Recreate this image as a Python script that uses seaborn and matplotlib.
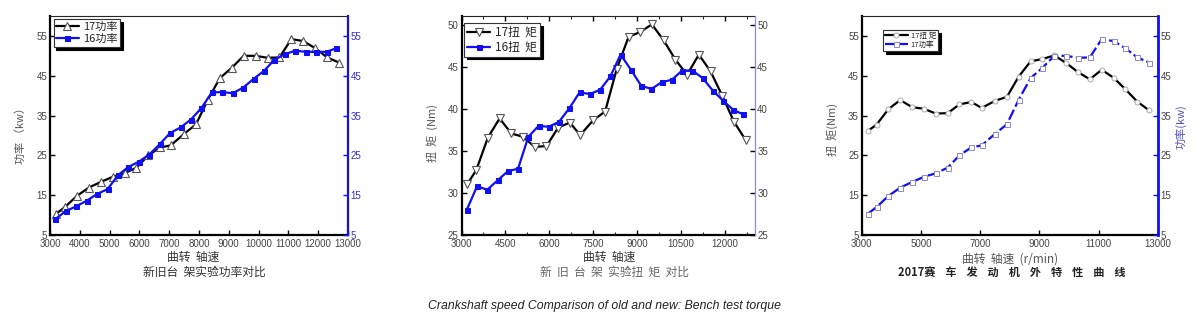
import matplotlib
matplotlib.use('Agg')
import matplotlib.pyplot as plt
import seaborn as sns
from matplotlib import font_manager as fm
from matplotlib.ticker import MultipleLocator, FixedLocator

# ---------------- data ----------------
rpm17 = [3200, 3500, 3900, 4300, 4700, 5100, 5500, 5900, 6300, 6700, 7050, 7500,
         7900, 8300, 8700, 9100, 9500, 9900, 10300, 10700, 11100, 11500, 11900,
         12300, 12700]
power17 = [10.3, 12.0, 14.8, 16.9, 18.3, 19.6, 20.5, 21.9, 25.0, 27.0, 27.5, 30.4,
           32.8, 39.0, 44.4, 47.0, 50.0, 50.0, 49.5, 49.6, 54.2, 53.7, 51.9, 49.6, 48.3]
torque17 = [31.1, 32.7, 36.6, 38.9, 37.1, 36.7, 35.5, 35.6, 37.8, 38.4, 36.9, 38.7,
            39.7, 44.8, 48.6, 49.2, 50.1, 48.2, 45.9, 44.1, 46.5, 44.5, 41.6, 38.5, 36.3]

rpm16 = [3180, 3530, 3880, 4230, 4580, 4930, 5280, 5630, 5980, 6330, 6680, 7030,
         7380, 7730, 8080, 8430, 8780, 9130, 9480, 9830, 10180, 10530, 10880, 11230,
         11580, 11930, 12280, 12600]
power16 = [9.0, 11.0, 12.2, 13.6, 15.3, 16.5, 20.0, 22.1, 23.4, 25.2, 27.8, 30.6,
           32.0, 34.0, 36.9, 40.8, 40.9, 40.6, 42.0, 44.2, 46.2, 49.0, 50.4, 51.3,
           51.0, 51.0, 51.0, 51.9]
torque16 = [28.0, 30.8, 30.4, 31.5, 32.6, 32.9, 36.7, 38.0, 37.9, 38.5, 40.1, 42.0,
            41.8, 42.3, 43.9, 46.5, 44.7, 42.8, 42.4, 43.2, 43.5, 44.6, 44.6, 43.7,
            42.2, 41.0, 39.9, 39.4]

ticks_p1 = [3000, 4000, 5000, 6000, 7000, 8000, 9000, 10000, 11000, 12000, 13000]
ticks_p2 = [3000, 4500, 6000, 7500, 9000, 10500, 12000]
ticks_p3 = [3000, 5000, 7000, 9000, 11000, 13000]
yt_power = [5, 15, 25, 35, 45, 55]
yt_torque = [25, 30, 35, 40, 45, 50]

# ---------------- style ----------------
sns.set_style('ticks')
names = {f.name for f in fm.fontManager.ttflist}
narrow = 'Liberation Sans Narrow' if 'Liberation Sans Narrow' in names else 'Liberation Sans'
plt.rcParams['font.family'] = [narrow, 'Noto Sans CJK SC', 'DejaVu Sans']
CJK = ['Noto Sans CJK SC', 'DejaVu Sans']
BLUE = '#1010f0'
GREY = '#444444'
TICK_FS = 7

W, H = 1201, 329
fig = plt.figure(figsize=(W / 100, H / 100), dpi=100)


def rect(l, r, t=16, b=235):
    return [l / W, 1 - b / H, (r - l) / W, (b - t) / H]


def style_axes(ax, ax2, xlim, xticks, ylim, yticks, right_color, right_lw, right_lab_color,
               left_lab_color=GREY):
    ax.set_xlim(*xlim)
    ax.set_ylim(*ylim)
    ax2.set_ylim(*ylim)
    ax.xaxis.set_major_locator(FixedLocator(xticks))
    ax.yaxis.set_major_locator(FixedLocator(yticks))
    ax2.yaxis.set_major_locator(FixedLocator(yticks))
    ax.tick_params(axis='both', direction='in', length=3.5, width=1, labelsize=TICK_FS,
                   colors='black', labelcolor=GREY, pad=2)
    ax.tick_params(axis='x', pad=3.2)
    ax.tick_params(axis='y', labelcolor=left_lab_color)
    ax2.tick_params(axis='y', direction='in', length=3.5, width=1, labelsize=TICK_FS,
                    colors=right_color, labelcolor=right_lab_color, pad=2)
    for s in ['left', 'bottom']:
        ax.spines[s].set_linewidth(1.6)
        ax.spines[s].set_color('black')
    ax.spines['top'].set_linewidth(0.8)
    ax.spines['right'].set_visible(False)
    for s in ['left', 'top', 'bottom']:
        ax2.spines[s].set_visible(False)
    ax2.spines['right'].set_color(right_color)
    ax2.spines['right'].set_linewidth(right_lw)
    ax.set_xlabel('')
    ax.set_ylabel('')
    ax2.set_ylabel('')


def legend(ax2, handles, labels, anchor, size, hl=2.0):
    leg = ax2.legend(handles, labels, loc='upper left', bbox_to_anchor=anchor,
                     borderaxespad=0, frameon=True, fancybox=False,
                     shadow={'color': 'black', 'alpha': 1}, framealpha=1,
                     edgecolor='#333333', borderpad=0.25, handlelength=hl,
                     handletextpad=0.4, labelspacing=0.15,
                     prop={'family': CJK, 'size': size})
    leg.get_frame().set_linewidth(0.8)
    return leg


# ---------------- panel 1 : power ----------------
ax = fig.add_axes(rect(50, 348))
ax2 = ax.twinx()
sns.lineplot(x=rpm17, y=power17, ax=ax, color='black', lw=1.6, marker='^',
             markersize=6, markerfacecolor='white', markeredgecolor='#555555',
             markeredgewidth=0.8, sort=False)
sns.lineplot(x=rpm16, y=power16, ax=ax2, color=BLUE, lw=1.6, marker='s',
             markersize=3.6, markerfacecolor=BLUE, markeredgecolor=BLUE, sort=False)
style_axes(ax, ax2, (3000, 13000), ticks_p1, (5, 60), yt_power, BLUE, 1.6, '#3030d0')
legend(ax2, [ax.get_lines()[0], ax2.get_lines()[0]], ['17功率', '16功率'],
       (0.012, 0.985), 8)
fig.text(21 / W, 1 - 133 / H, '功率 （kw）', rotation=90, ha='center', va='center',
         family=CJK, fontsize=8, color='#555555')
fig.text(193 / W, 1 - 257 / H, '曲转  轴速', ha='center', va='center', family=CJK,
         fontsize=8.5, color='#333333')
fig.text(204 / W, 1 - 272 / H, '新旧台  架实验功率对比', ha='center', va='center',
         family=CJK, fontsize=8.5, color='#333333')

# ---------------- panel 2 : torque ----------------
ax = fig.add_axes(rect(461.5, 754.5))
ax2 = ax.twinx()
sns.lineplot(x=rpm17, y=torque17, ax=ax, color='black', lw=1.6, marker='v',
             markersize=6, markerfacecolor='white', markeredgecolor='#555555',
             markeredgewidth=0.8, sort=False)
sns.lineplot(x=rpm16, y=torque16, ax=ax2, color=BLUE, lw=1.6, marker='s',
             markersize=3.6, markerfacecolor=BLUE, markeredgecolor=BLUE, sort=False)
style_axes(ax, ax2, (3000, 13000), ticks_p2, (25, 51.1), yt_torque, '#8888ee', 0.9,
           GREY)
ax2.tick_params(axis='y', colors='black', labelcolor=GREY)
ax2.spines['right'].set_color('#8888ee')
ax.xaxis.set_minor_locator(MultipleLocator(750))
ax.tick_params(axis='x', which='both', top=True, direction='in')
ax.tick_params(axis='x', which='minor', length=2.5, width=0.8)
legend(ax2, [ax.get_lines()[0], ax2.get_lines()[0]], ['17扭  矩', '16扭  矩'],
       (0.008, 0.968), 8.5)
fig.text(432 / W, 1 - 133 / H, '扭  矩  (Nm)', rotation=90, ha='center', va='center',
         family=CJK, fontsize=8, color='#555555')
fig.text(609 / W, 1 - 257 / H, '曲转  轴速', ha='center', va='center', family=CJK,
         fontsize=8.5, color='#333333')
fig.text(614 / W, 1 - 272 / H, '新  旧  台  架  实验扭  矩  对比', ha='center',
         va='center', family=CJK, fontsize=8.5, color='#666666')

# ---------------- panel 3 : 2017 characteristics ----------------
ax = fig.add_axes(rect(861.7, 1158))
ax2 = ax.twinx()
sns.lineplot(x=rpm17, y=torque17, ax=ax, color='black', lw=1.6, marker='o',
             markersize=3.6, markerfacecolor='white', markeredgecolor='#aaaaaa',
             markeredgewidth=0.7, sort=False)
sns.lineplot(x=rpm17, y=power17, ax=ax2, color=BLUE, lw=1.6, marker='s',
             markersize=3.6, markerfacecolor='white', markeredgecolor='#8888cc',
             markeredgewidth=0.7, sort=False)
ax2.get_lines()[0].set_dashes([5, 1.5])
style_axes(ax, ax2, (3000, 13000), ticks_p3, (5, 60), yt_power, BLUE, 2.0, GREY)
legend(ax2, [ax.get_lines()[0], ax2.get_lines()[0]], ['17扭 矩', '17功率'],
       (0.071, 0.936), 5.5, hl=3.0)
fig.text(832 / W, 1 - 130 / H, '扭  矩(Nm)', rotation=90, ha='center', va='center',
         family=CJK, fontsize=8, color='#555555')
fig.text(1181 / W, 1 - 127 / H, '功率(kw)', rotation=90, ha='center', va='center',
         family=CJK, fontsize=8, color='#5050c0')
fig.text(1010 / W, 1 - 259 / H, '曲转  轴速  (r/min)', ha='center', va='center',
         family=CJK, fontsize=8.5, color='#555555')
fig.text(1012 / W, 1 - 272 / H,
         '2017赛    车    发    动    机    外    特    性    曲    线',
         ha='center', va='center', family=CJK, fontsize=8, color='#222222',
         fontweight='bold')

# ---------------- caption ----------------
fig.text(604 / W, 1 - 306 / H,
         'Crankshaft speed Comparison of old and new: Bench test torque',
         ha='center', va='center', fontsize=8.8, style='italic', color='#222222',
         family=[narrow, 'DejaVu Sans'])

fig.savefig('out.png', dpi=100)
